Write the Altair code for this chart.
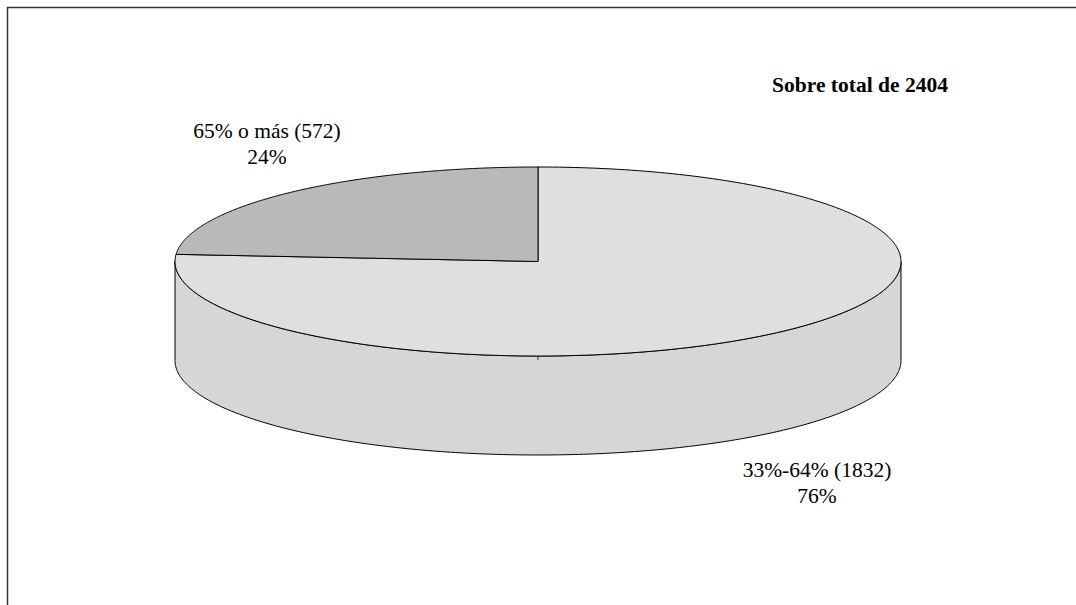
import altair as alt
import numpy as np
import pandas as pd

# ---- data ----
categories = ["33%-64%", "65% o más"]
counts = [1832, 572]
total = 2404
title_text = f"Sobre total de {total}"

# ---- layout / style constants ----
W, H = 1076, 605
CX, CY, RX, RY, DEPTH = 538, 261.5, 363, 94.5, 99
FILL_LIGHT = "#dfdfdf"
FILL_DARK = "#b9b9b9"
FILL_SIDE = "#d6d6d6"
FONT = "Liberation Serif"

x_dom = [(0 - CX) / RX, (W - CX) / RX]
y_dom = [(CY - H) / RY, (CY - 0) / RY]
D = DEPTH / RY

shares = np.array(counts) / sum(counts)
bounds = np.concatenate([[0.0], np.cumsum(shares)]) * 360.0


def arc(a0, a1, n, drop=0.0):
    phi = np.radians(np.linspace(a0, a1, n))
    return list(np.sin(phi)), list(np.cos(phi) - drop)


# slices of top face
slice_frames = []
for k, cat in enumerate(categories):
    ax, ay = arc(bounds[k], bounds[k + 1], 240)
    xs = [0.0] + ax + [0.0]
    ys = [0.0] + ay + [0.0]
    slice_frames.append(pd.DataFrame({"x": xs, "y": ys, "i": range(len(xs)), "cat": cat}))

# visible side wall (front half)
tx, ty = arc(90, 270, 240)
bx, by = arc(270, 90, 240, drop=D)
sx = tx + bx + [tx[0]]
sy = ty + by + [ty[0]]
side_df = pd.DataFrame({"x": sx, "y": sy, "i": range(len(sx))})

# small seam on the front of the wall
seam_df = pd.DataFrame({"x": [0.0, 0.0], "y": [-1.0, -1.0 - 4 / RY], "i": [0, 1]})

X = alt.X("x:Q", scale=alt.Scale(domain=x_dom, nice=False, zero=False), axis=None)
Y = alt.Y("y:Q", scale=alt.Scale(domain=y_dom, nice=False, zero=False), axis=None)

side = alt.Chart(side_df).mark_line(
    fill=FILL_SIDE, stroke="black", strokeWidth=1
).encode(x=X, y=Y, order="i:Q")

seam = alt.Chart(seam_df).mark_line(stroke="#333", strokeWidth=1).encode(x=X, y=Y, order="i:Q")

fills = {categories[0]: FILL_LIGHT, categories[1]: FILL_DARK}
slice_layers = [
    alt.Chart(df).mark_line(fill=fills[df["cat"][0]], stroke="black", strokeWidth=1).encode(
        x=X, y=Y, order="i:Q"
    )
    for df in slice_frames
]

# labels
labels = [f"{c} ({n})\n{round(100 * n / total)}%" for c, n in zip(categories, counts)]
label_pos = {categories[0]: (817, 477), categories[1]: (267, 138)}
lab_df = pd.DataFrame({
    "text": labels,
    "px": [label_pos[c][0] for c in categories],
    "py": [label_pos[c][1] for c in categories],
})
label_layer = alt.Chart(lab_df).mark_text(
    font=FONT, fontSize=21.5, align="center", baseline="alphabetic", lineBreak="\n",
    lineHeight=26, color="black"
).encode(
    x=alt.X("px:Q", scale=None), y=alt.Y("py:Q", scale=None), text="text:N"
)

title_layer = alt.Chart(pd.DataFrame({"t": [title_text]})).mark_text(
    font=FONT, fontSize=21.5, fontWeight="bold", align="center", baseline="alphabetic", color="black"
).encode(x=alt.value(860), y=alt.value(92), text="t:N")

frame_top = alt.Chart(pd.DataFrame({"a": [0]})).mark_rule(color="#333", strokeWidth=1.5).encode(
    x=alt.value(7), x2=alt.value(W), y=alt.value(7.5)
)
frame_left = alt.Chart(pd.DataFrame({"a": [0]})).mark_rule(color="#333", strokeWidth=1.5).encode(
    x=alt.value(7.5), y=alt.value(7), y2=alt.value(H)
)

chart = alt.layer(
    side, seam, *slice_layers, label_layer, title_layer, frame_top, frame_left
).properties(
    width=W, height=H, padding=0, autosize=alt.AutoSizeParams(type="none"), background="white"
).configure_view(stroke=None)

chart.save("out.html", embed_options={"renderer": "svg", "actions": False})
